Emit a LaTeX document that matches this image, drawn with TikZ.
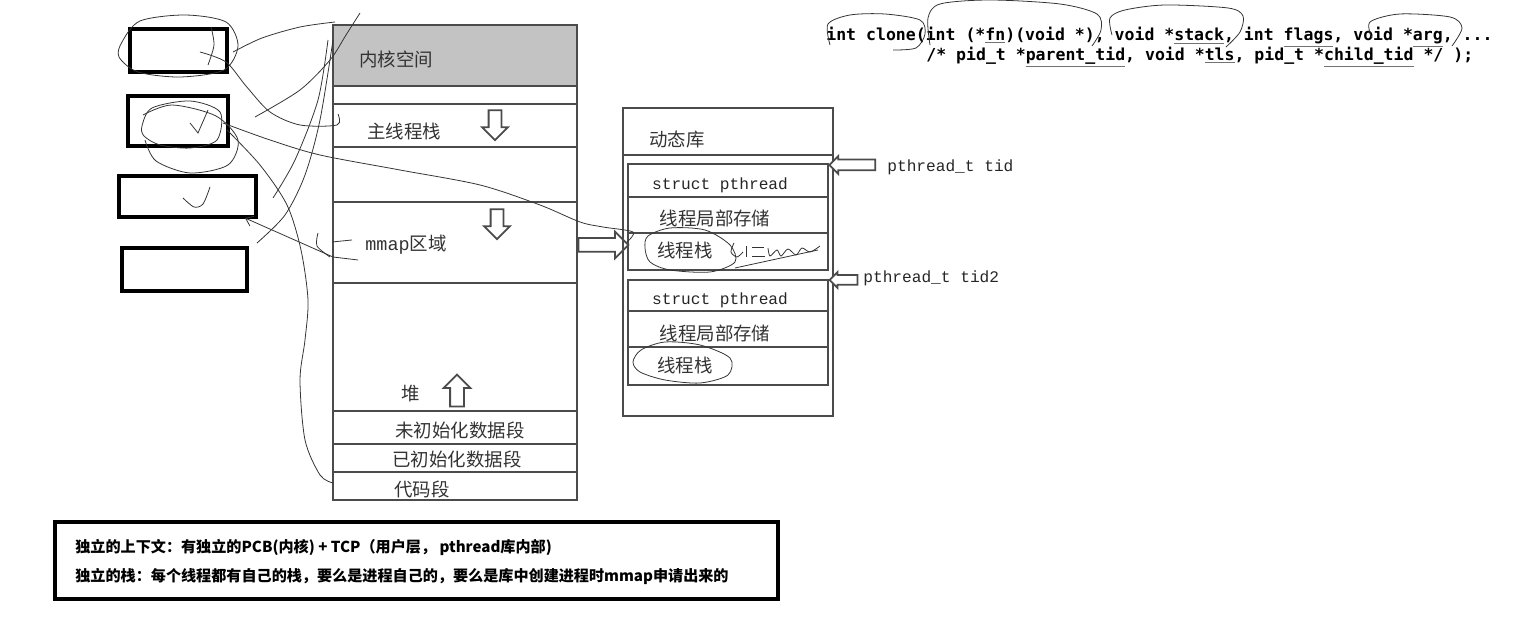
\documentclass[tikz,border=0pt]{standalone}
\usepackage{fontspec}
\setmainfont{Liberation Serif}
\newfontfamily\cjk{Noto Sans CJK SC}
\newfontfamily\codefont{Liberation Mono}
\newfontfamily\clonefont{DejaVu Sans Mono}
\usetikzlibrary{shapes.arrows, arrows.meta}
\definecolor{kernelgray}{RGB}{195,195,195}
\definecolor{sketchline}{RGB}{75,75,75}
\newcommand\argul[1]{\textcolor{black!55}{\underline{\textcolor{black}{#1}}}}

\begin{document}
\begin{tikzpicture}[
    x=0.02cm, y=-0.02cm,
    frame/.style={draw=sketchline, line width=1.1pt},
    thickbox/.style={draw, line width=1.8pt},
    hand/.style={draw=black!80, line width=0.45pt},
    cn/.style={font=\cjk\fontsize{10.5}{12}\selectfont, text=black!80, inner sep=0pt},
    code/.style={font=\codefont\fontsize{9.2}{11}\selectfont, text=black!85, inner sep=0pt},
    hollow/.style={single arrow, draw=sketchline, fill=white, line width=1pt}
]
    \useasboundingbox (0,0) rectangle (1526,617);

    % Empty boxes on the left
    \draw[thickbox] (130,29) rectangle (227,72);
    \draw[thickbox] (128,96) rectangle (228,146);
    \draw[thickbox] (119,176) rectangle (256,217);
    \draw[thickbox] (122,248) rectangle (247,291);

    % Process address space
    \draw[frame, fill=kernelgray] (333,25) rectangle (577,86);
    \draw[frame] (333,25) rectangle (577,500);
    \draw[frame] (333,104) -- (577,104);
    \draw[frame] (333,147) -- (577,147);
    \draw[frame] (333,202) -- (577,202);
    \draw[frame] (333,283) -- (577,283);
    \draw[frame] (333,411) -- (577,411);
    \draw[frame] (333,444) -- (577,444);
    \draw[frame] (333,472) -- (577,472);

    \node[cn] (kernel) at (396,59) {内核空间};
    \node[cn] (mainstack) at (404,131) {主线程栈};
    \node[cn] (mmap) at (406,245) {{\codefont mmap}区域};
    \node[cn] (heap) at (411,394) {堆};
    \node[cn] (bss) at (460,430) {未初始化数据段};
    \node[cn] (data) at (457,459) {已初始化数据段};
    \node[cn] (text) at (422,489) {代码段};

    \node[hollow, shape border rotate=270, minimum height=0.6cm, inner sep=0.11cm, single arrow head extend=0.13cm] (growdown) at (495,122) {};
    \node[hollow, shape border rotate=270, minimum height=0.6cm, inner sep=0.11cm, single arrow head extend=0.13cm] (mmapdown) at (497,221) {};
    \node[hollow, shape border rotate=90, minimum height=0.64cm, inner sep=0.12cm, single arrow head extend=0.13cm] (heapup) at (457,394) {};

    % Shared library area
    \node[hollow, minimum height=1cm, inner sep=0.12cm, single arrow head extend=0.13cm] (tolib) at (600,245) {};
    \draw[frame] (623,108) rectangle (833,416);
    \draw[frame] (623,155) -- (833,155);
    \node[cn] (lib) at (677,140) {动态库};

    \draw[frame] (628,164) rectangle (828,270);
    \draw[frame] (628,197) -- (828,197);
    \draw[frame] (628,233) -- (828,233);
    \node[code] (tcb) at (720,185) {struct pthread};
    \node[cn] (tls) at (715,218) {线程局部存储};
    \node[cn] (tstack) at (685,250) {线程栈};

    \draw[frame] (628,280) rectangle (828,385);
    \draw[frame] (628,311) -- (828,311);
    \draw[frame] (628,347) -- (828,347);
    \node[code] (tcbtwo) at (720,300) {struct pthread};
    \node[cn] (tlstwo) at (715,333) {线程局部存储};
    \node[cn] (tstacktwo) at (685,365) {线程栈};

    % Thread ids
    \node[hollow, shape border rotate=180, minimum height=0.92cm, inner sep=0.09cm, single arrow head extend=0.07cm] (tidarrow) at (855,165) {};
    \node[code, anchor=west] (tid) at (887,167) {pthread\_t tid};
    \node[hollow, shape border rotate=180, minimum height=0.56cm, inner sep=0.08cm, single arrow head extend=0.06cm] (tidtwoarrow) at (846,280) {};
    \node[code, anchor=west] (tidtwo) at (863,278) {pthread\_t tid2};

    % clone prototype
    \node[font=\clonefont\bfseries\fontsize{9.4}{11}\selectfont, anchor=west, inner sep=0pt] (clone) at (826,37)
        {int clone(int (*\argul{fn})(void *), void *\argul{stack}, int \argul{flags}, void *\argul{arg}, ...};
    \node[font=\clonefont\bfseries\fontsize{9.4}{11}\selectfont, anchor=west, inner sep=0pt] (cloneargs) at (926,57)
        {/* pid\_t *\argul{parent\_tid}, void *\argul{tls}, pid\_t *\argul{child\_tid} */ );};

    % Summary
    \draw[line width=2pt] (55,522) rectangle (778,599);
    \node[font=\cjk\bfseries\fontsize{8.6}{11}\selectfont, anchor=west, inner sep=0pt] (ctx) at (75,547)
        {独立的上下文：有独立的PCB(内核) + TCP（用户层， pthread库内部)};
    \node[font=\cjk\bfseries\fontsize{8.6}{11}\selectfont, anchor=west, inner sep=0pt] (stk) at (75,576)
        {独立的栈：每个线程都有自己的栈，要么是进程自己的，要么是库中创建进程时mmap申请出来的};

    % Hand-drawn notes
    \draw[hand] plot[smooth cycle] coordinates {(122,42) (140,21) (185,15) (226,22) (238,46) (224,70) (180,77) (138,72) (119,57)};
    \draw[hand] plot[smooth] coordinates {(211,27) (214,45) (208,65)};
    \draw[hand] plot[smooth] coordinates {(233,52) (262,38) (300,27) (335,22)};
    \draw[hand] plot[smooth] coordinates {(200,52) (226,62) (246,86) (270,112) (300,125) (337,125) (338,114)};
    \draw[hand] plot[smooth cycle] coordinates {(142,126) (152,108) (190,101) (220,112) (217,140) (190,148) (160,145) (144,136)};
    \draw[hand] plot[smooth] coordinates {(143,115) (172,105) (216,116) (238,140) (228,165) (190,173) (156,161) (145,140)};
    \draw[hand] (190,123) -- (198,133) -- (208,110);
    \draw[hand] plot[smooth] coordinates {(183,198) (194,207) (203,204) (210,187)};
    \draw[hand] plot[smooth] coordinates {(223,123) (270,140) (320,155) (400,170) (480,185) (540,205) (580,222) (603,227) (633,232) (627,242)};
    \draw[hand] plot[smooth] coordinates {(227,130) (260,165) (287,205) (301,250) (308,300) (305,340) (300,380) (305,440) (320,475) (333,483)};
    \draw[hand] plot[smooth] coordinates {(255,117) (300,90) (330,60) (346,35) (360,13)};
    \draw[hand] plot[smooth] coordinates {(273,198) (295,160) (318,100) (328,40)};
    \draw[hand] plot[smooth] coordinates {(257,243) (285,215) (305,175) (320,120) (333,40)};
    \draw[hand, -{Straight Barb[length=4pt, width=6pt]}] (358,260) -- (333,257) -- (245,218);
    \draw[hand] plot[smooth] coordinates {(318,233) (317,246) (330,257)};
    \draw[hand] (332,242) -- (352,240);
    \draw[hand] plot[smooth cycle] coordinates {(648,236) (670,228) (705,230) (730,245) (735,262) (710,272) (670,270) (650,262) (645,248)};
    \draw[hand] plot[smooth] coordinates {(734,243) (731,252) (737,257) (743,252)};
    \draw[hand] (746,246) -- (746,257);
    \draw[hand] (752,247) -- (764,247);
    \draw[hand] (752,256) -- (765,256);
    \draw[hand] plot[smooth] coordinates {(768,248) (770,256) (777,250) (781,256) (788,249) (796,255) (802,248) (810,252) (820,246)};
    \draw[hand] (735,268) -- (818,250);
    \draw[hand] plot[smooth cycle] coordinates {(633,362) (641,350) (665,342) (700,345) (730,358) (728,375) (700,383) (665,380) (640,372)};
    \draw[hand] plot[smooth] coordinates {(830,45) (828,24) (850,15) (885,14) (920,20) (925,34) (916,48) (893,50)};
    \draw[hand] plot[smooth] coordinates {(930,45) (928,18) (940,4) (990,0) (1060,4) (1097,14) (1101,30) (1092,46)};
    \draw[hand] plot[smooth] coordinates {(1112,35) (1110,18) (1125,10) (1165,5) (1228,8) (1243,16) (1240,32) (1226,47)};
    \draw[hand] plot[smooth] coordinates {(1372,38) (1370,22) (1400,14) (1450,17) (1462,28) (1452,46)};
\end{tikzpicture}
\end{document}
